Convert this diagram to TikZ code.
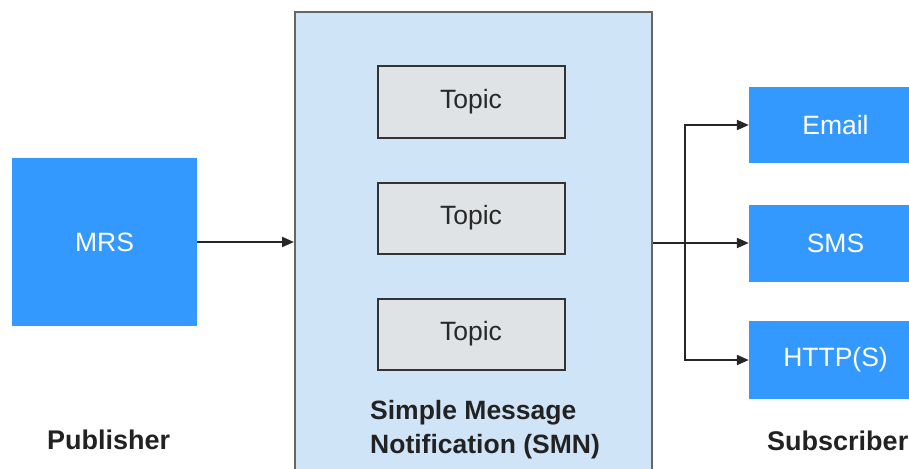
\documentclass[tikz,border=0pt]{standalone}
\usepackage{fontspec}
\setmainfont{Liberation Sans}
\usetikzlibrary{arrows.meta,positioning}
\definecolor{bluebox}{HTML}{3399FF}
\definecolor{smnfill}{HTML}{D0E4F8}
\definecolor{smnline}{HTML}{666666}
\definecolor{topicfill}{HTML}{E0E3E6}
\definecolor{topicline}{HTML}{333333}
\definecolor{arrowc}{HTML}{262626}
\definecolor{labelc}{HTML}{222222}
\tikzset{
  bluenode/.style={fill=bluebox, draw=none, text=white, font=\fontsize{26.5}{30}\selectfont, inner sep=0pt},
  topicnode/.style={fill=topicfill, draw=topicline, line width=2pt, minimum width=187pt, minimum height=71pt, text=topicline!80!black, font=\fontsize{26.5}{30}\selectfont, inner sep=0pt},
  smnbox/.style={fill=smnfill, draw=smnline, line width=2pt, minimum width=357pt, minimum height=470pt, inner sep=0pt},
  flow/.style={draw=arrowc, line width=2pt, -{Triangle[length=12pt,width=10pt]}},
  boldlabel/.style={text=labelc, font=\fontsize{27}{34}\selectfont\bfseries, inner sep=0pt, anchor=base west}
}
\begin{document}
\begin{tikzpicture}[x=1pt,y=-1pt]
\useasboundingbox (0,0) rectangle (909,468);
% SMN container
\node[smnbox] (smn) at (473.5,247) {};
% topics
\node[topicnode] (t1) at (471,102) {Topic};
\node[topicnode] (t2) at (471,218) {Topic};
\node[topicnode] (t3) at (471,334) {Topic};
% publisher
\node[bluenode, minimum width=185pt, minimum height=168pt] (mrs) at (104.5,242) {MRS};
% subscribers
\node[bluenode, minimum width=173pt, minimum height=76pt] (email) at (835.5,125) {Email};
\node[bluenode, minimum width=173pt, minimum height=77pt] (sms) at (835.5,243) {SMS};
\node[bluenode, minimum width=173pt, minimum height=78pt] (http) at (835.5,360) {HTTP(S)};
% labels
\node[boldlabel, align=left, font=\fontsize{26.5}{34}\selectfont\bfseries] (smnlabel) at (370,453) {Simple Message\\Notification (SMN)};
\node[boldlabel] (pub) at (47,449) {Publisher};
\node[boldlabel] (sub) at (767,450) {Subscriber};
% connectors
\coordinate (smnin) at (smn.west |- mrs.east);
\coordinate (smnout) at (smn.east |- sms.west);
\coordinate (branch) at (685,243);
\draw[flow] (mrs.east) -- (smnin);
\draw[flow] (smnout) -- (sms.west);
\draw[flow] (branch) |- (email.west);
\draw[flow] (branch) |- (http.west);
\end{tikzpicture}
\end{document}
